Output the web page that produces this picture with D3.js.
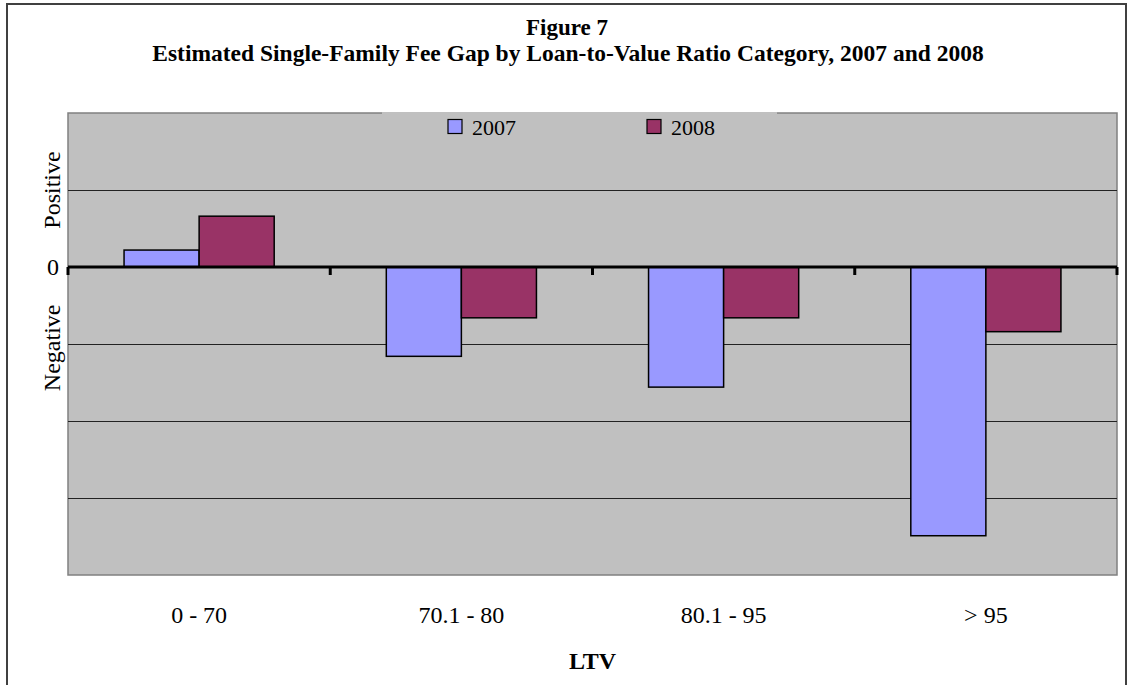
<!DOCTYPE html>
<html>
<head>
<meta charset="utf-8">
<script src="https://cdn.jsdelivr.net/npm/d3@7"></script>
<style>
  html, body { margin: 0; padding: 0; background: #fff; }
  svg { display: block; }
  text { font-family: "Liberation Serif", "Times New Roman", serif; fill: #000; }
</style>
</head>
<body>
<svg id="chart" width="1133" height="685"></svg>
<script>
// ---- data ----
const categories = ["0 - 70", "70.1 - 80", "80.1 - 95", "> 95"];
const seriesNames = ["2007", "2008"];
const values2007 = [0.22, -1.16, -1.56, -3.49];
const values2008 = [0.66, -0.66, -0.66, -0.84];
const seriesColors = ["#9999FF", "#993366"];
const yLabelText = ["Positive", "0", "Negative"];
const yLabelValue = [1, 0, -1.05];
const yDomain = [-4, 2];
const titleLines = ["Figure 7", "Estimated Single-Family Fee Gap by Loan-to-Value Ratio Category, 2007 and 2008"];
const xAxisTitle = "LTV";

const seriesValues = [values2007, values2008];

// ---- layout ----
const svg = d3.select("#chart");
const W = 1133, H = 685;
const plot = { left: 68, right: 1117, top: 113, bottom: 575 };

// outer frame
svg.append("rect")
  .attr("x", 7).attr("y", 4).attr("width", 1119).attr("height", H + 20)
  .attr("fill", "#fff").attr("stroke", "#404040").attr("stroke-width", 2);

// titles
svg.append("text").attr("x", 567).attr("y", 35)
  .attr("text-anchor", "middle").attr("font-weight", "bold").attr("font-size", 23)
  .text(titleLines[0]);
svg.append("text").attr("x", 568).attr("y", 61)
  .attr("text-anchor", "middle").attr("font-weight", "bold").attr("font-size", 23.5)
  .text(titleLines[1]);

// scales
const x0 = d3.scaleBand().domain(categories).range([plot.left, plot.right])
  .paddingInner(0.4275).paddingOuter(0.21375);
const x1 = d3.scaleBand().domain(seriesNames).range([0, x0.bandwidth()]);
const y = d3.scaleLinear().domain(yDomain).range([plot.bottom, plot.top]);

// plot background
svg.append("rect")
  .attr("x", plot.left).attr("y", plot.top)
  .attr("width", plot.right - plot.left).attr("height", plot.bottom - plot.top)
  .attr("fill", "#C0C0C0").attr("stroke", "#808080").attr("stroke-width", 1.5);

// gridlines
const gridVals = y.ticks(6).filter(v => v !== 0 && v !== yDomain[0] && v !== yDomain[1]);
svg.append("g").selectAll("line").data(gridVals).join("line")
  .attr("x1", plot.left).attr("x2", plot.right)
  .attr("y1", d => Math.round(y(d)) + 0.5).attr("y2", d => Math.round(y(d)) + 0.5)
  .attr("stroke", "#222").attr("stroke-width", 1);

// legend box (covers top border)
const lg = svg.append("g");
lg.append("rect").attr("x", 382).attr("y", plot.top - 1).attr("width", 395).attr("height", 34)
  .attr("fill", "#C0C0C0");
const legendX = [448, 647];
seriesNames.forEach((s, i) => {
  lg.append("rect").attr("x", legendX[i]).attr("y", 119.5).attr("width", 14).attr("height", 14)
    .attr("fill", seriesColors[i]).attr("stroke", "#000").attr("stroke-width", 1.2);
  lg.append("text").attr("x", legendX[i] + 24).attr("y", 135)
    .attr("font-size", 22).text(s);
});

// bars
const groups = svg.append("g").selectAll("g").data(categories).join("g")
  .attr("transform", d => `translate(${x0(d)},0)`);
groups.selectAll("rect")
  .data((c, ci) => seriesNames.map((s, si) => ({ s, si, v: seriesValues[si][ci] })))
  .join("rect")
  .attr("x", d => x1(d.s))
  .attr("width", x1.bandwidth())
  .attr("y", d => y(Math.max(0, d.v)))
  .attr("height", d => Math.abs(y(d.v) - y(0)))
  .attr("fill", d => seriesColors[d.si])
  .attr("stroke", "#000").attr("stroke-width", 1.5);

// zero axis with category-boundary ticks
const step = x0.step();
const boundaries = d3.range(categories.length + 1).map(i => plot.left + i * step);
const xAxisG = svg.append("g");
xAxisG.append("line").attr("x1", plot.left).attr("x2", plot.right)
  .attr("y1", y(0)).attr("y2", y(0)).attr("stroke", "#000").attr("stroke-width", 3);
xAxisG.selectAll("line.tick").data(boundaries).join("line").attr("class", "tick")
  .attr("x1", d => d).attr("x2", d => d)
  .attr("y1", y(0)).attr("y2", y(0) + 8)
  .attr("stroke", "#000").attr("stroke-width", 3);

// category labels
svg.append("g").selectAll("text").data(categories).join("text")
  .attr("x", d => x0(d) + x0.bandwidth() / 2)
  .attr("y", 623)
  .attr("text-anchor", "middle").attr("font-size", 24)
  .text(d => d);

// x axis title
svg.append("text").attr("x", (plot.left + plot.right) / 2).attr("y", 669)
  .attr("text-anchor", "middle").attr("font-weight", "bold").attr("font-size", 24)
  .text(xAxisTitle);

// y labels
yLabelText.forEach((t, i) => {
  const yy = y(yLabelValue[i]);
  if (t === "0") {
    svg.append("text").attr("x", 53).attr("y", yy).attr("dy", "0.35em")
      .attr("text-anchor", "middle").attr("font-size", 24).text(t);
  } else {
    svg.append("text").attr("transform", `translate(60,${yy}) rotate(-90)`)
      .attr("text-anchor", "middle").attr("font-size", 24).text(t);
  }
});
</script>
</body>
</html>
